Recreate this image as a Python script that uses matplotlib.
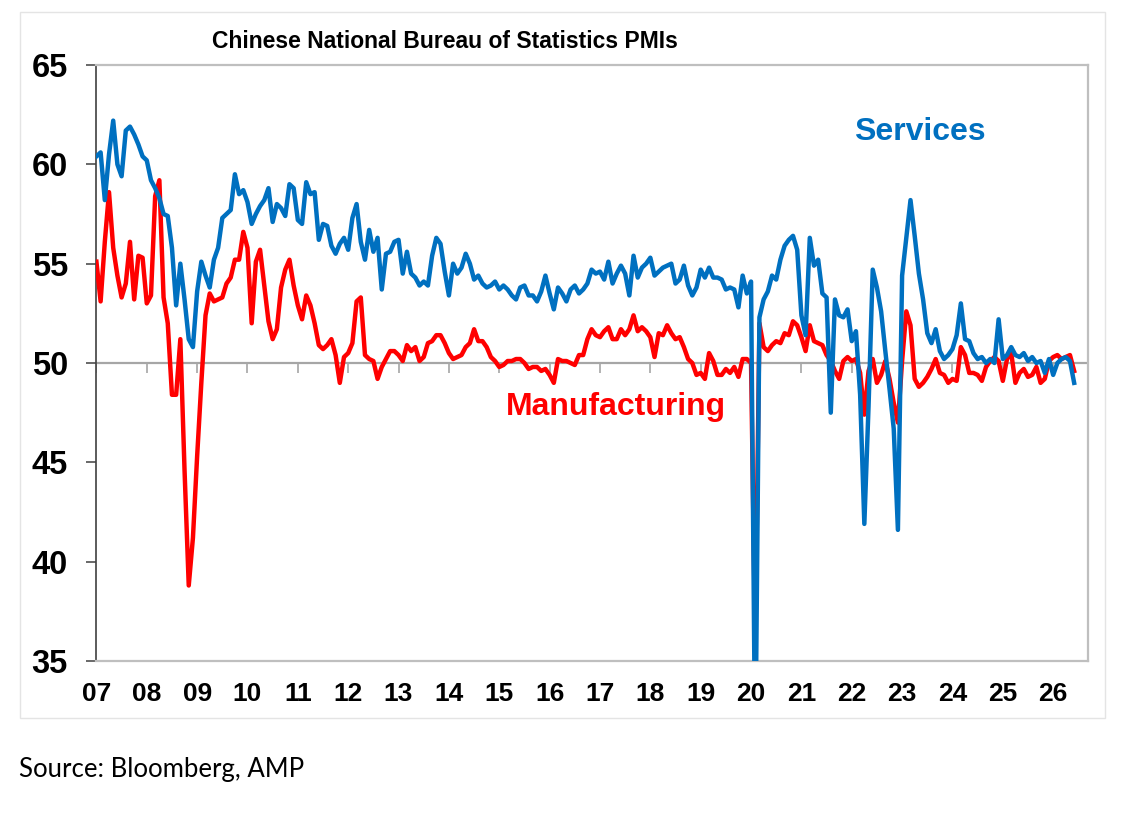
import numpy as np
import matplotlib
matplotlib.use("Agg")
import matplotlib.pyplot as plt
from matplotlib.patches import Rectangle

# monthly NBS PMIs, Jan 2007 onwards
manufacturing = [
    55.1, 53.1, 56.1, 58.6, 55.8, 54.4, 53.3, 54.0, 56.1, 53.2, 55.4, 55.3,  # 2007
    53.0, 53.4, 58.4, 59.2, 53.3, 52.0, 48.4, 48.4, 51.2, 44.6, 38.8, 41.2,  # 2008
    45.3, 49.0, 52.4, 53.5, 53.1, 53.2, 53.3, 54.0, 54.3, 55.2, 55.2, 56.6,  # 2009
    55.8, 52.0, 55.1, 55.7, 53.9, 52.1, 51.2, 51.7, 53.8, 54.7, 55.2, 53.9,  # 2010
    52.9, 52.2, 53.4, 52.9, 52.0, 50.9, 50.7, 50.9, 51.2, 50.4, 49.0, 50.3,  # 2011
    50.5, 51.0, 53.1, 53.3, 50.4, 50.2, 50.1, 49.2, 49.8, 50.2, 50.6, 50.6,  # 2012
    50.4, 50.1, 50.9, 50.6, 50.8, 50.1, 50.3, 51.0, 51.1, 51.4, 51.4, 51.0,  # 2013
    50.5, 50.2, 50.3, 50.4, 50.8, 51.0, 51.7, 51.1, 51.1, 50.8, 50.3, 50.1,  # 2014
    49.8, 49.9, 50.1, 50.1, 50.2, 50.2, 50.0, 49.7, 49.8, 49.8, 49.6, 49.7,  # 2015
    49.4, 49.0, 50.2, 50.1, 50.1, 50.0, 49.9, 50.4, 50.4, 51.2, 51.7, 51.4,  # 2016
    51.3, 51.6, 51.8, 51.2, 51.2, 51.7, 51.4, 51.7, 52.4, 51.6, 51.8, 51.6,  # 2017
    51.3, 50.3, 51.5, 51.4, 51.9, 51.5, 51.2, 51.3, 50.8, 50.2, 50.0, 49.4,  # 2018
    49.5, 49.2, 50.5, 50.1, 49.4, 49.4, 49.7, 49.5, 49.8, 49.3, 50.2, 50.2,  # 2019
    50.0, 35.7, 52.0, 50.8, 50.6, 50.9, 51.1, 51.0, 51.5, 51.4, 52.1, 51.9,  # 2020
    51.3, 50.6, 51.9, 51.1, 51.0, 50.9, 50.4, 50.1, 49.6, 49.2, 50.1, 50.3,  # 2021
    50.1, 50.2, 49.5, 47.4, 49.6, 50.2, 49.0, 49.4, 50.1, 49.2, 48.0, 47.0,  # 2022
    50.1, 52.6, 51.9, 49.2, 48.8, 49.0, 49.3, 49.7, 50.2, 49.5, 49.4, 49.0,  # 2023
    49.2, 49.1, 50.8, 50.4, 49.5, 49.5, 49.4, 49.1, 49.8, 50.1, 50.3, 50.1,  # 2024
    49.1, 50.2, 50.5, 49.0, 49.5, 49.7, 49.3, 49.4, 49.8, 49.0, 49.2, 50.1,  # 2025
    50.3, 50.4, 50.2, 50.3, 50.4, 49.6,                                      # 2026
]

services = [
    60.4, 60.6, 58.2, 60.5, 62.2, 60.0, 59.4, 61.7, 61.9, 61.5, 61.0, 60.4,  # 2007
    60.2, 59.2, 58.8, 58.3, 57.5, 57.4, 55.8, 52.9, 55.0, 53.2, 51.2, 50.8,  # 2008
    53.6, 55.1, 54.4, 53.8, 55.2, 55.8, 57.3, 57.5, 57.7, 59.5, 58.5, 58.7,  # 2009
    58.1, 57.0, 57.5, 57.9, 58.2, 58.8, 57.1, 58.0, 57.8, 57.4, 59.0, 58.8,  # 2010
    57.2, 57.0, 59.1, 58.5, 58.6, 56.2, 57.0, 56.9, 55.9, 55.5, 56.0, 56.3,  # 2011
    55.7, 57.3, 58.0, 56.1, 55.2, 56.7, 55.6, 56.3, 53.7, 55.5, 55.6, 56.1,  # 2012
    56.2, 54.5, 55.6, 54.5, 54.3, 53.9, 54.1, 53.9, 55.4, 56.3, 56.0, 54.6,  # 2013
    53.4, 55.0, 54.5, 54.8, 55.5, 55.0, 54.2, 54.4, 54.0, 53.8, 53.9, 54.1,  # 2014
    53.7, 53.9, 53.7, 53.4, 53.2, 53.8, 53.9, 53.4, 53.4, 53.1, 53.6, 54.4,  # 2015
    53.5, 52.7, 53.8, 53.5, 53.1, 53.7, 53.9, 53.5, 53.7, 54.0, 54.7, 54.5,  # 2016
    54.6, 54.2, 55.1, 54.0, 54.5, 54.9, 54.5, 53.4, 55.4, 54.3, 54.8, 55.0,  # 2017
    55.3, 54.4, 54.6, 54.8, 54.9, 55.0, 54.0, 54.2, 54.9, 53.9, 53.4, 53.8,  # 2018
    54.7, 54.3, 54.8, 54.3, 54.3, 54.2, 53.7, 53.8, 53.7, 52.8, 54.4, 53.5,  # 2019
    54.1, 29.6, 52.3, 53.2, 53.6, 54.4, 54.2, 55.2, 55.9, 56.2, 56.4, 55.7,  # 2020
    52.4, 51.4, 56.3, 54.9, 55.2, 53.5, 53.3, 47.5, 53.2, 52.4, 52.3, 52.7,  # 2021
    51.1, 51.6, 48.4, 41.9, 47.8, 54.7, 53.8, 52.6, 50.6, 48.7, 46.7, 41.6,  # 2022
    54.4, 56.3, 58.2, 56.4, 54.5, 53.2, 51.5, 51.0, 51.7, 50.6, 50.2, 50.4,  # 2023
    50.7, 51.4, 53.0, 51.2, 51.1, 50.5, 50.2, 50.3, 50.0, 50.2, 50.0, 52.2,  # 2024
    50.2, 50.4, 50.8, 50.4, 50.3, 50.5, 50.1, 50.3, 50.0, 50.1, 49.5, 50.2,  # 2025
    49.4, 50.0, 50.2, 50.3, 50.1, 49.0,                                      # 2026
]

year_labels = ['07', '08', '09', '10', '11', '12', '13', '14', '15', '16',
               '17', '18', '19', '20', '21', '22', '23', '24', '25', '26']
y_ticks = [35, 40, 45, 50, 55, 60, 65]

BLUE = '#0070C0'
RED = '#FF0000'
FONT = ['Liberation Sans', 'DejaVu Sans']


def plotPMIs(outFilePath: str):
    W, H = 1121, 814
    fig = plt.figure(figsize=(W / 100, H / 100), dpi=100)

    # faint frame round the chart area
    fig.patches.append(Rectangle((20 / W, 1 - 718 / H), 1085 / W, 706 / H,
                                 transform=fig.transFigure, fill=False,
                                 edgecolor='#E4E4E4', lw=1))

    ax = fig.add_axes([96 / W, 1 - 661 / H, (1088 - 96) / W, (661 - 65) / H])

    months = np.arange(len(manufacturing))
    ax.axhline(50, color='#A6A6A6', lw=1.6, zorder=1)
    ax.plot(months, manufacturing, color=RED, lw=3.2, zorder=3)
    ax.plot(months, services, color=BLUE, lw=3.2, zorder=4)

    ax.set_xlim(-0.1, 236.3)
    ax.set_ylim(35, 65)

    tickPos = months[::12]
    # small tick marks hang off the 50 line, Excel style
    ax.vlines(tickPos, 49.5, 50, color='#A6A6A6', lw=1.2, zorder=1)
    ax.set_xticks(tickPos, year_labels)
    ax.set_yticks(y_ticks)

    ax.tick_params(axis='x', length=0, pad=15, labelsize=19)
    ax.tick_params(axis='y', length=7.2, width=1.1, color='#404040',
                   pad=13, labelsize=23.5)
    for lab in ax.get_xticklabels() + ax.get_yticklabels():
        lab.set_fontweight('bold')
        lab.set_family(FONT)

    for side in ['top', 'right', 'bottom']:
        ax.spines[side].set_color('#BFBFBF')
        ax.spines[side].set_linewidth(1.6)
    ax.spines['left'].set_color('#404040')
    ax.spines['left'].set_linewidth(1.2)

    ax.text(0.830, 0.888, 'Services', transform=ax.transAxes, color=BLUE,
            fontsize=23, fontweight='bold', family=FONT, ha='center', va='center')
    ax.text(0.524, 0.427, 'Manufacturing', transform=ax.transAxes, color=RED,
            fontsize=23, fontweight='bold', family=FONT, ha='center', va='center')

    fig.text(445 / W, 1 - 41 / H, 'Chinese National Bureau of Statistics PMIs',
             ha='center', va='center', fontsize=16.5, fontweight='bold',
             family=['Liberation Sans Narrow', 'Liberation Sans', 'DejaVu Sans'])
    fig.text(19 / W, 1 - 770 / H, 'Source: Bloomberg, AMP', ha='left',
             va='center', fontsize=18.5, family=['Lato', 'DejaVu Sans'])

    fig.savefig(outFilePath, dpi=100)
    plt.close(fig)


def main():
    plotPMIs('out.png')


if __name__ == "__main__":
    main()
